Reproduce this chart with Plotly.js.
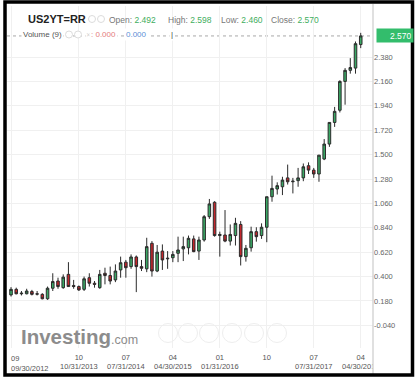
<!DOCTYPE html>
<html>
<head>
<meta charset="utf-8">
<script src="https://cdn.plot.ly/plotly-3.0.1.min.js"></script>
<style>
html,body{margin:0;padding:0;background:#fff;}
#chart{width:418px;height:382px;}
</style>
</head>
<body>
<div id="chart"></div>
<script>
// Monthly candles, US2YT=RR
var months = ["2012-10","2012-11","2012-12","2013-01","2013-02","2013-03","2013-04","2013-05","2013-06","2013-07","2013-08","2013-09","2013-10","2013-11","2013-12",
"2014-01","2014-02","2014-03","2014-04","2014-05","2014-06","2014-07","2014-08","2014-09","2014-10","2014-11","2014-12",
"2015-01","2015-02","2015-03","2015-04","2015-05","2015-06","2015-07","2015-08","2015-09","2015-10","2015-11","2015-12",
"2016-01","2016-02","2016-03","2016-04","2016-05","2016-06","2016-07","2016-08","2016-09","2016-10","2016-11","2016-12",
"2017-01","2017-02","2017-03","2017-04","2017-05","2017-06","2017-07","2017-08","2017-09","2017-10","2017-11","2017-12",
"2018-01","2018-02","2018-03","2018-04","2018-05"];
var openV = [0.235,0.285,0.245,0.245,0.265,0.245,0.24,0.20,0.295,0.36,0.30,0.42,0.32,0.31,0.285,
0.39,0.34,0.30,0.43,0.41,0.37,0.46,0.53,0.49,0.577,0.49,0.47,
0.70,0.45,0.63,0.56,0.57,0.61,0.65,0.66,0.74,0.63,0.73,0.94,
1.07,0.77,0.775,0.72,0.77,0.87,0.58,0.66,0.805,0.77,0.845,1.12,
1.19,1.21,1.29,1.255,1.265,1.29,1.40,1.36,1.325,1.46,1.595,1.79,
1.90,2.16,2.26,2.28,2.492];
var highV = [0.305,0.30,0.27,0.29,0.28,0.27,0.25,0.31,0.43,0.39,0.42,0.53,0.37,0.32,0.40,
0.43,0.36,0.46,0.48,0.49,0.51,0.58,0.55,0.60,0.59,0.55,0.75,
0.72,0.685,0.69,0.63,0.63,0.76,0.76,0.77,0.77,0.76,0.955,1.10,
1.08,0.805,1.00,0.87,0.93,0.90,0.685,0.85,0.845,0.88,1.12,1.31,
1.25,1.30,1.41,1.29,1.38,1.42,1.43,1.38,1.495,1.64,1.79,1.93,
2.17,2.28,2.37,2.52,2.598];
var lowV = [0.22,0.24,0.23,0.24,0.23,0.23,0.195,0.19,0.27,0.29,0.29,0.31,0.29,0.27,0.27,
0.31,0.30,0.29,0.33,0.33,0.35,0.39,0.39,0.47,0.26,0.45,0.44,
0.40,0.44,0.46,0.47,0.53,0.53,0.54,0.60,0.62,0.55,0.715,0.92,
0.76,0.58,0.71,0.68,0.68,0.50,0.535,0.625,0.715,0.74,0.71,1.075,
1.14,1.135,1.23,1.15,1.21,1.26,1.325,1.29,1.255,1.45,1.57,1.75,
1.88,1.95,2.23,2.23,2.460];
var closeV = [0.285,0.245,0.25,0.27,0.24,0.242,0.20,0.295,0.355,0.31,0.395,0.31,0.31,0.28,0.38,
0.34,0.33,0.42,0.41,0.36,0.45,0.525,0.48,0.577,0.49,0.475,0.67,
0.45,0.62,0.55,0.565,0.60,0.64,0.67,0.745,0.625,0.73,0.94,1.055,
0.77,0.78,0.72,0.78,0.88,0.58,0.655,0.805,0.76,0.845,1.12,1.195,
1.22,1.27,1.255,1.26,1.29,1.39,1.36,1.325,1.495,1.595,1.79,1.89,
2.16,2.26,2.285,2.50,2.570];

// x-axis ticks: label placed at the candle following the month-end date
var tickAt = ["2012-10","2013-11","2014-08","2015-05","2016-02","2016-11","2017-08","2018-05"];
var tickLabels = ["09<br>09/30/2012","10<br>10/31/2013","07<br>07/31/2014","04<br>04/30/2015","01<br>01/31/2016","10","07<br>07/31/2017","04<br>04/30/2018"];
var yTicks = [-0.04,0.18,0.40,0.62,0.84,1.06,1.28,1.50,1.72,1.94,2.16,2.38];
var yTickLabels = ["-0.040","0.180","0.400","0.620","0.840","1.060","1.280","1.500","1.720","1.940","2.160","2.380"];

var lastOpen = 2.492, lastHigh = 2.598, lastLow = 2.460, lastClose = 2.570;

var xIdx = months.map(function(m,i){return i;});
var tickVals = tickAt.map(function(m){return months.indexOf(m);});
// the first label sits against the left edge (left-aligned), drawn as an annotation
var axisText = tickLabels.map(function(t,i){return i===0 ? '' : t;});

var W=418,H=382, L=7, R=45, T=6, B=34;
var pw=W-L-R, ph=H-T-B;
function px(x){return (x-L)/pw;}
function py(y){return (H-B-y)/ph;}

var trace = {
  type:'candlestick',
  x:xIdx, open:openV, high:highV, low:lowV, close:closeV,
  increasing:{line:{color:'#2b2b2b',width:1},fillcolor:'#3aa865'},
  decreasing:{line:{color:'#2b2b2b',width:1},fillcolor:'#c3262c'},
  whiskerwidth:0,
  hoverinfo:'skip'
};

var shapes = [];
// last price dotted line
shapes.push({type:'line',xref:'paper',yref:'y',x0:0,x1:1,y0:lastClose,y1:lastClose,line:{color:'#a8a8a8',width:1,dash:'dot'},layer:'below'});
// date-label clip at the price scale
shapes.push({type:'rect',xref:'paper',yref:'paper',x0:px(373),x1:px(411),y0:py(372),y1:py(350),fillcolor:'#fff',line:{width:0},layer:'above'});
// right axis separator
shapes.push({type:'line',xref:'paper',yref:'paper',x0:1,x1:1,y0:py(374),y1:py(4),line:{color:'#d6d6d6',width:1.5}});
// navigation buttons
[168,188,209,232,254,277].forEach(function(c){
  shapes.push({type:'circle',xref:'paper',yref:'paper',x0:px(c-9.5),x1:px(c+9.5),y0:py(342.5),y1:py(323.5),line:{color:'#eeeeee',width:1}});
});
// small header icons
[[92,19],[101,19],[69,34.5],[78,34.5]].forEach(function(p){
  shapes.push({type:'circle',xref:'paper',yref:'paper',x0:px(p[0]-3.5),x1:px(p[0]+3.5),y0:py(p[1]+3.5),y1:py(p[1]-3.5),fillcolor:'#ffffff',line:{color:'#dcdcdc',width:1}});
});
// outer frame
shapes.push({type:'rect',xref:'paper',yref:'paper',x0:px(5),x1:px(412.5),y0:py(375),y1:py(2),line:{color:'#000',width:3.5},fillcolor:'rgba(0,0,0,0)'});

var fam = 'Liberation Sans, Arial, sans-serif';
var green = '#3fae5e';
function ann(text,x,y,opts){
  var a = {text:text,xref:'paper',yref:'paper',x:px(x),y:py(y),xanchor:'left',yanchor:'middle',showarrow:false,font:{family:fam,size:8.5,color:'#777'}};
  for (var k in opts){a[k]=opts[k];}
  return a;
}
var annotations = [
  ann('<b>US2YT=RR</b>',26,19,{font:{family:fam,size:11,color:'#222'}}),
  ann('Open: <span style="color:'+green+'">'+lastOpen.toFixed(3)+'</span>',107,20),
  ann('High: <span style="color:'+green+'">'+lastHigh.toFixed(3)+'</span>',166,20),
  ann('Low: <span style="color:'+green+'">'+lastLow.toFixed(3)+'</span>',219,20),
  ann('Close: <span style="color:'+green+'">'+lastClose.toFixed(3)+'</span>',269,20),
  ann('Volume (9)',21,34.5,{bgcolor:'#fff',borderpad:1,font:{family:fam,size:8,color:'#555'}}),
  ann('\u2715',85,34.5,{bgcolor:'#fff',borderpad:0,font:{family:fam,size:6,color:'#d0d0d0'}}),
  ann(': 0.000',89,34.5,{bgcolor:'#fff',borderpad:1,font:{family:fam,size:8,color:'#e47c7c'}}),
  ann('0.000',124,34.5,{bgcolor:'#fff',borderpad:1,font:{family:fam,size:8,color:'#5b8fd6'}}),
  ann('|',169,34.5,{bgcolor:'#fff',borderpad:1,font:{family:fam,size:8,color:'#444'}}),
  {text:lastClose.toFixed(3),xref:'paper',yref:'y',x:px(376),y:lastClose,xanchor:'left',yanchor:'middle',showarrow:false,
   bgcolor:'#33bd6c',width:33,align:'right',borderpad:1.5,font:{family:fam,size:8.5,color:'#fff'}},
  ann('<b>Investing</b><span style="font-size:12.5px">.com</span>',19,336,{font:{family:fam,size:20.5,color:'#8c8c8c'}}),
  ann(tickLabels[0],9,352,{yanchor:'top',align:'left',font:{family:fam,size:7.5,color:'#555'}})
];

var layout = {
  width:W,height:H,
  margin:{l:L,r:R,t:T,b:B,pad:0},
  paper_bgcolor:'#fff',plot_bgcolor:'#fff',
  showlegend:false,
  dragmode:false,
  xaxis:{
    range:[-0.77,69.35],
    rangeslider:{visible:false},
    tickmode:'array',tickvals:tickVals,ticktext:axisText,
    ticks:'',showline:false,zeroline:false,
    ticklabeloverflow:'allow',
    ticklabelstandoff:3,
    showgrid:true,gridcolor:'#f0f0f0',gridwidth:1,
    tickfont:{family:fam,size:7.5,color:'#555'},
    fixedrange:true
  },
  yaxis:{
    side:'right',
    range:[-0.244,2.84],
    tickmode:'array',tickvals:yTicks,ticktext:yTickLabels,
    ticks:'',showline:false,zeroline:false,
    showgrid:true,gridcolor:'#f0f0f0',gridwidth:1,
    tickfont:{family:fam,size:7.5,color:'#666'},
    fixedrange:true
  },
  shapes:shapes,
  annotations:annotations
};

Plotly.newPlot('chart',[trace],layout,{staticPlot:true,displayModeBar:false});
</script>
</body>
</html>
